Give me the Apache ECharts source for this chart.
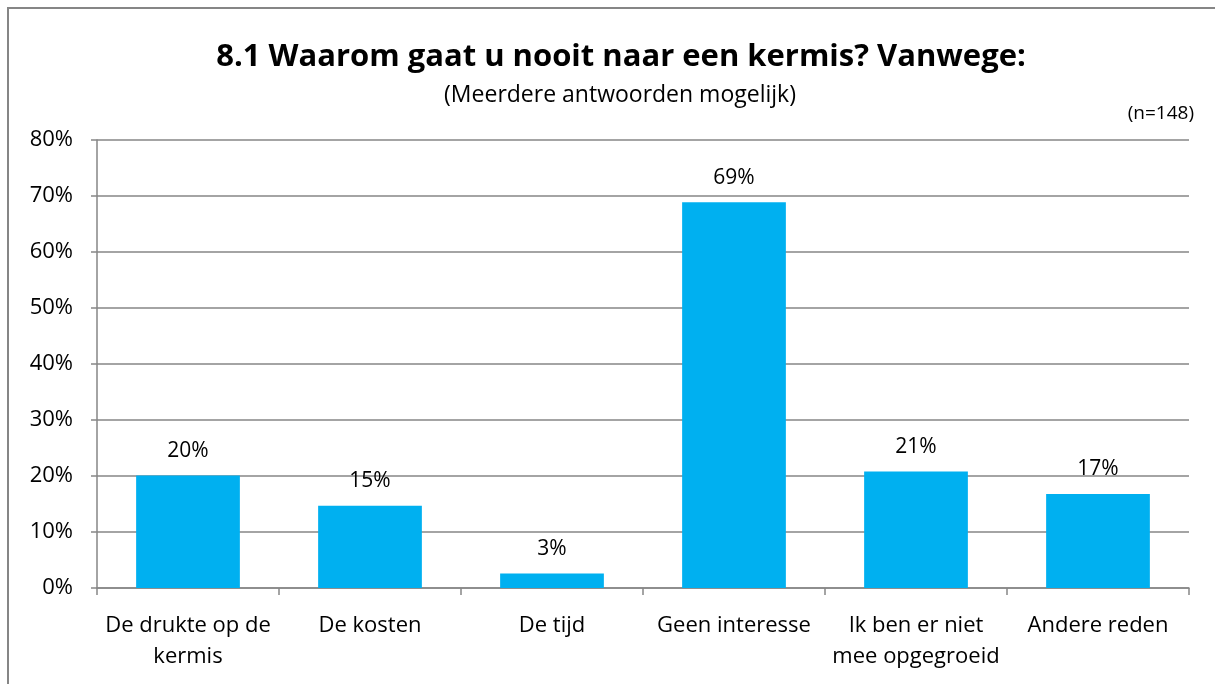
<!DOCTYPE html>
<html>
<head>
<meta charset="utf-8">
<script src="https://cdn.jsdelivr.net/npm/echarts@6/dist/echarts.min.js"></script>
<style>
  html, body { margin: 0; padding: 0; background: #fff; }
  #main { width: 1215px; height: 684px; }
</style>
</head>
<body>
<div id="main"></div>
<script>
var redenen = ['De drukte op de\nkermis', 'De kosten', 'De tijd', 'Geen interesse', 'Ik ben er niet\nmee opgegroeid', 'Andere reden'];
var percentages = [20.1, 14.7, 2.6, 68.9, 20.8, 16.8];
var yTicks = [0, 10, 20, 30, 40, 50, 60, 70, 80];

var fontNaam = 'Open Sans';
var grijs = '#868686';

var chartDom = document.getElementById('main');
var myChart = echarts.init(chartDom);

var option = {
  backgroundColor: '#FFFFFF',
  animation: false,
  title: [
    {
      text: '8.1 Waarom gaat u nooit naar een kermis? Vanwege:',
      left: 616, top: 37, textAlign: 'center',
      textStyle: { fontFamily: fontNaam, fontSize: 31, fontWeight: 'bold', color: '#000' }
    },
    {
      text: '(Meerdere antwoorden mogelijk)',
      left: 615, top: 79, textAlign: 'center',
      textStyle: { fontFamily: fontNaam, fontSize: 23, fontWeight: 'normal', color: '#000' }
    },
    {
      text: '(n=148)',
      right: 16, top: 99,
      textStyle: { fontFamily: fontNaam, fontSize: 19, fontWeight: 'normal', color: '#000' }
    }
  ],
  graphic: [{
    type: 'rect',
    shape: { x: 8, y: 8, width: 1220, height: 700 },
    style: { fill: 'none', stroke: grijs, lineWidth: 2 }
  }],
  grid: { left: 97, right: 26, top: 140, bottom: 96 },
  xAxis: {
    type: 'category',
    data: redenen,
    axisLine: { lineStyle: { color: grijs, width: 1.5 } },
    axisTick: { show: true, length: 7, lineStyle: { color: grijs, width: 1.5 } },
    axisLabel: { fontFamily: fontNaam, fontSize: 22, color: '#000', margin: 22, lineHeight: 31, interval: 0 }
  },
  yAxis: {
    type: 'value',
    min: 0, max: 80, interval: 10,
    axisLine: { show: true, lineStyle: { color: grijs, width: 1.5 } },
    axisTick: { show: true, length: 6, lineStyle: { color: grijs, width: 1.5 } },
    splitLine: { lineStyle: { color: grijs, width: 1.5 } },
    axisLabel: {
      fontFamily: fontNaam, fontSize: 22, color: '#000', margin: 24,
      formatter: function (v) { return yTicks.indexOf(v) >= 0 ? v + '%' : ''; }
    }
  },
  series: [{
    type: 'bar',
    data: percentages,
    barWidth: '57%',
    itemStyle: { color: '#00B0F0' },
    label: {
      show: true, position: 'top', distance: 14,
      fontFamily: fontNaam, fontSize: 21, color: '#000',
      formatter: function (p) { return Math.round(p.value) + '%'; }
    }
  }]
};

option && myChart.setOption(option);
</script>
</body>
</html>
